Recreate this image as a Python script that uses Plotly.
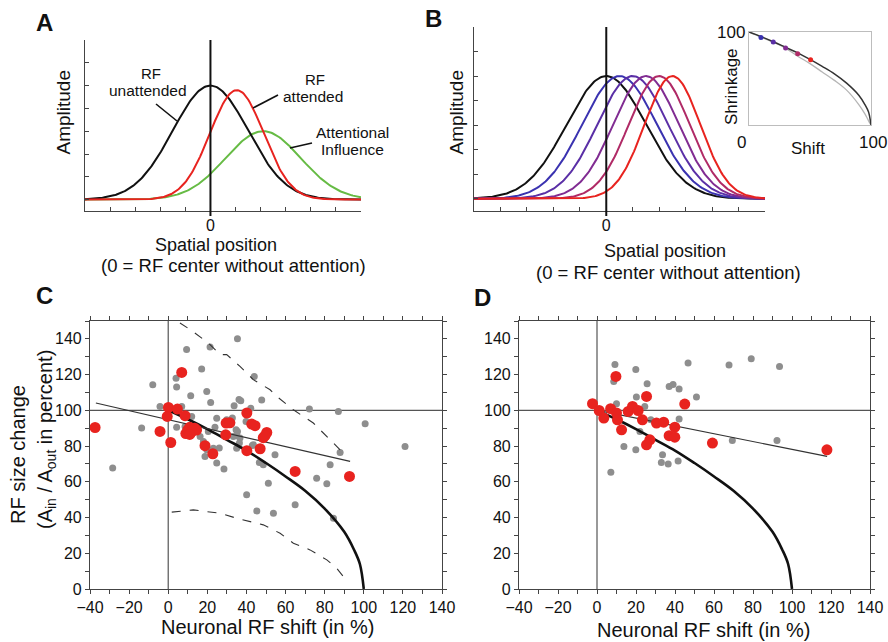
import numpy as np
import plotly.graph_objects as go

W, H = 888, 642
def PX(x): return x / W
def PY(y): return 1 - y / H

FONT = "Liberation Sans, Arial, Helvetica, sans-serif"

# ---------------- Panel A : Gaussian model parameters
a_centers = [0.0, 1.05, 2.1]        # RF unattended, RF attended, attentional influence
a_sigmas = [1.5, 1.07, 1.5]
a_amps = [1.0, 0.96, 0.6]
a_colors = ["#111111", "#e8231f", "#66bb44"]
spatial_ticks = [-5, -4, -3, -2, -1, 0, 1, 2, 3, 4, 5, 6]
amp_ticks = [0, 0.2, 0.4, 0.6, 0.8, 1.0, 1.2, 1.4]

# ---------------- Panel B : shifted / shrunken RFs
b_centers = [0.0, 0.5, 1.0, 1.5, 2.0, 2.5]
b_shrink = [100, 94.2, 89.2, 82.7, 76.6, 70.1]
b_base_sigma = 1.5
b_colors = ["#111111", "#3a32b0", "#5a2fa6", "#812c92", "#b02a66", "#e8231f"]

# inset of B
inset_shift = [9.8, 19.9, 30.0, 39.9, 50.5]
inset_shrinkage = [94.2, 89.2, 82.7, 76.6, 70.1]
inset_dot_colors = ["#3a32b0", "#5a2fa6", "#812c92", "#b02a66", "#e8231f"]
model_x = [0, 10, 20, 30, 40, 50, 60, 70, 80, 90, 95, 98, 100]
model_y = [100, 95, 89.5, 83.5, 77.5, 70.5, 63, 55, 45, 32, 22, 14, 0]
inset_gray_x = [0, 10, 20, 30, 40, 50, 60, 70, 80, 90, 95, 98, 100]
inset_gray_y = [100, 94.5, 89, 82.5, 74, 66, 57, 48, 37.5, 22, 12, 4.5, 0]

# ---------------- Panel C data
c_gray_x = [35.4, 9.4, 21.4, -7.9, 4.0, 4.3, 17.1, 11.5, 19.7, 21.7, -4.2, 6.9, 37.1, 47.8, 33.7, 42.2,
            24.8, 4.3, -13.6, -28.4, 18.0, 19.7, 18.8, 23.9, 24.8, 28.5, 26.1, 35.0, 34.7, 36.4, 32.5,
            43.5, 46.6, 48.6, 54.6, 51.2, 29.9, 44.0, 72.2, 87.0, 100.7, 121.1, 87.9, 82.8, 75.9, 81.1,
            64.9, 40.1, 45.3, 53.8, 84.5, 16.3, 33.3, 39.8, 35.0, 12.0, 8.6, 20.5, 23.1, 43.0, 36.7,
            35.4, 32.8, 36.2]
c_gray_y = [140.0, 134.0, 135.5, 114.3, 117.9, 113.1, 123.2, 108.2, 110.6, 104.4, 102.2, 102.2, 105.4,
            105.8, 102.6, 101.1, 95.5, 90.6, 90.1, 67.7, 82.6, 77.9, 74.2, 90.6, 70.5, 67.1, 78.9, 85.8,
            89.1, 81.7, 92.9, 80.7, 70.8, 69.5, 75.1, 59.2, 94.7, 119.0, 100.7, 99.4, 92.5, 79.8, 76.4,
            69.5, 62.0, 58.9, 47.1, 52.7, 43.7, 42.4, 39.6, 85.4, 85.4, 93.8, 78.8, 96.6, 91.0, 88.2,
            78.8, 80.3, 84.5, 88.2, 95.7, 106.0]
c_red_x = [-37.4, 6.9, 0.1, -0.5, 4.7, 8.6, -4.2, 1.3, 9.0, 10.0, 11.0, 12.0, 13.5, 14.5, 11.0, 18.8,
           22.8, 29.6, 31.5, 29.4, 40.2, 42.7, 44.4, 50.4, 48.6, 49.5, 40.2, 47.0, 64.9, 92.7]
c_red_y = [90.4, 121.2, 101.6, 96.6, 100.7, 97.0, 88.2, 82.0, 87.0, 89.0, 90.5, 88.0, 90.0, 89.0, 86.5,
           80.2, 75.7, 92.9, 93.0, 86.3, 98.5, 92.3, 91.4, 87.6, 84.7, 85.8, 77.4, 78.5, 65.8, 63.0]
c_fit_x = [-37.0, 93.0]
c_fit_y = [104.1, 71.4]
c_upper_x = [6.0, 11.2, 20.5, 26.5, 29.9, 36.7, 43.5, 52.1, 55.5, 64.0, 74.2, 84.5, 87.9]
c_upper_y = [148.9, 145.2, 137.7, 131.2, 131.2, 124.6, 117.2, 111.5, 107.8, 100.3, 92.9, 81.7, 77.9]
c_lower_x = [1.8, 12.8, 19.7, 26.5, 35.0, 41.8, 48.6, 57.2, 64.0, 72.5, 81.1, 86.2, 89.6]
c_lower_y = [43.0, 44.3, 43.3, 42.4, 39.6, 37.7, 35.9, 31.2, 25.6, 21.9, 16.3, 11.6, 6.9]

# ---------------- Panel D data
d_gray_x = [9.2, 8.6, 10.0, 19.9, 20.2, 25.7, 24.5, 37.0, 39.0, 42.1, 46.7, 51.0, 67.7, 79.1, 93.6,
            22.0, 42.1, 13.8, 19.9, 7.1, 33.6, 33.0, 36.5, 41.6, 69.4, 92.3, 27.6]
d_gray_y = [125.6, 116.2, 103.7, 122.8, 107.4, 114.9, 102.2, 113.4, 114.5, 111.9, 126.5, 107.4, 125.4,
            128.9, 124.6, 88.2, 95.1, 79.8, 77.9, 65.4, 75.1, 70.8, 69.9, 71.7, 83.1, 83.1, 94.7]
d_red_x = [-2.3, 1.1, 3.5, 7.0, 10.0, 10.5, 9.7, 12.6, 16.0, 18.2, 21.1, 25.4, 23.3, 30.5, 34.2, 39.9,
           37.0, 39.9, 45.0, 27.1, 25.4, 59.2, 117.9]
d_red_y = [103.7, 99.9, 95.7, 100.9, 98.5, 94.7, 119.0, 89.1, 99.4, 102.2, 99.9, 107.8, 94.7, 92.9, 93.4,
           90.6, 85.8, 85.0, 103.5, 83.5, 80.7, 81.7, 77.9]
d_fit_x = [-1.0, 118.0]
d_fit_y = [100.3, 74.2]

shift_labels = list(range(-40, 141, 20))
size_labels = list(range(0, 141, 20))
minor_step = 10

GRAY = "#8e8e8e"
RED = "#e8231f"

fig = go.Figure()

# ---- A curves
xs = np.linspace(spatial_ticks[0], spatial_ticks[-1], 241)
order_a = [2, 0, 1]
for i in order_a:
    ys = a_amps[i] * np.exp(-0.5 * ((xs - a_centers[i]) / a_sigmas[i]) ** 2)
    fig.add_trace(go.Scatter(x=xs, y=ys, mode="lines", line=dict(color=a_colors[i], width=2),
                             xaxis="x", yaxis="y", showlegend=False, hoverinfo="skip"))

# ---- B curves
for c, s, col in zip(b_centers, b_shrink, b_colors):
    sig = b_base_sigma * s / 100.0
    ys = np.exp(-0.5 * ((xs - c) / sig) ** 2)
    fig.add_trace(go.Scatter(x=xs, y=ys, mode="lines", line=dict(color=col, width=2),
                             xaxis="x2", yaxis="y2", showlegend=False, hoverinfo="skip"))

# ---- inset
fig.add_trace(go.Scatter(x=inset_gray_x, y=inset_gray_y, mode="lines", line=dict(color="#b5b5b5", width=1.3, shape="spline"),
                         xaxis="x3", yaxis="y3", showlegend=False))
fig.add_trace(go.Scatter(x=model_x, y=model_y, mode="lines", line=dict(color="#333333", width=1.5, shape="spline"),
                         xaxis="x3", yaxis="y3", showlegend=False))
fig.add_trace(go.Scatter(x=inset_shift, y=inset_shrinkage, mode="markers",
                         marker=dict(color=inset_dot_colors, size=5),
                         xaxis="x3", yaxis="y3", showlegend=False, cliponaxis=False))

# ---- C
fig.add_trace(go.Scatter(x=c_gray_x, y=c_gray_y, mode="markers", marker=dict(color=GRAY, size=7),
                         xaxis="x4", yaxis="y4", showlegend=False, cliponaxis=False))
for ux, uy in ((c_upper_x, c_upper_y), (c_lower_x, c_lower_y)):
    fig.add_trace(go.Scatter(x=ux, y=uy, mode="lines", line=dict(color="#333333", width=1.1, dash="dash"),
                             xaxis="x4", yaxis="y4", showlegend=False))
fig.add_trace(go.Scatter(x=model_x, y=model_y, mode="lines", line=dict(color="#111111", width=2.6, shape="spline"),
                         xaxis="x4", yaxis="y4", showlegend=False))
fig.add_trace(go.Scatter(x=c_fit_x, y=c_fit_y, mode="lines", line=dict(color="#333333", width=1.2),
                         xaxis="x4", yaxis="y4", showlegend=False))
fig.add_trace(go.Scatter(x=c_red_x, y=c_red_y, mode="markers", marker=dict(color=RED, size=11),
                         xaxis="x4", yaxis="y4", showlegend=False, cliponaxis=False))

# ---- D
fig.add_trace(go.Scatter(x=d_gray_x, y=d_gray_y, mode="markers", marker=dict(color=GRAY, size=7),
                         xaxis="x5", yaxis="y5", showlegend=False))
fig.add_trace(go.Scatter(x=model_x, y=model_y, mode="lines", line=dict(color="#111111", width=2.6, shape="spline"),
                         xaxis="x5", yaxis="y5", showlegend=False))
fig.add_trace(go.Scatter(x=d_fit_x, y=d_fit_y, mode="lines", line=dict(color="#333333", width=1.2),
                         xaxis="x5", yaxis="y5", showlegend=False))
fig.add_trace(go.Scatter(x=d_red_x, y=d_red_y, mode="markers", marker=dict(color=RED, size=11),
                         xaxis="x5", yaxis="y5", showlegend=False, cliponaxis=False))

# ---------------- axes
def minus(v):
    return ("\u2212" + str(-v)) if v < 0 else str(v)

def sketch_x(domain, anchor):
    return dict(domain=domain, range=[spatial_ticks[0], spatial_ticks[-1]], tickvals=[0],
                ticktext=["0"], ticks="inside", ticklen=4, tickcolor="#444",
                minor=dict(tickvals=spatial_ticks, ticks="inside", ticklen=4, tickcolor="#444", showgrid=False),
                showline=True, linecolor="#444", linewidth=1, showgrid=False,
                zeroline=False, tickfont=dict(size=16, color="#111"), anchor=anchor, automargin=False)

def sketch_y(domain, anchor):
    return dict(domain=domain, range=[-0.1, 1.4], tickvals=amp_ticks, ticks="inside", ticklen=4,
                tickcolor="#444", showline=True, linecolor="#444", linewidth=1, showgrid=False,
                zeroline=False, showticklabels=False, anchor=anchor, automargin=False)

def data_x(domain, anchor):
    return dict(domain=domain, range=[-40, 140], tickvals=shift_labels,
                ticktext=[minus(t) for t in shift_labels],
                ticks="outside", ticklen=4, tickcolor="#444", showline=True, mirror="ticks",
                minor=dict(dtick=minor_step, ticks="outside", ticklen=4, tickcolor="#444", showgrid=False),
                linecolor="#444", linewidth=1.2, showgrid=False, zeroline=False,
                tickfont=dict(size=16, color="#111"), anchor=anchor, automargin=False)

def data_y(domain, anchor):
    return dict(domain=domain, range=[0, 150], tickvals=size_labels,
                ticktext=[str(t) for t in size_labels],
                ticks="outside", ticklen=4, tickcolor="#444", showline=True, mirror="ticks",
                minor=dict(dtick=minor_step, ticks="outside", ticklen=4, tickcolor="#444", showgrid=False),
                linecolor="#444", linewidth=1.2, showgrid=False, zeroline=False,
                tickfont=dict(size=16, color="#111"), anchor=anchor, automargin=False)

A_x = [PX(85), PX(361)]
B_x = [PX(474), PX(765)]
AB_y = [PY(211), PY(40)]
B_y = [PY(211), PY(27)]
I_x = [PX(749), PX(871)]
I_y = [PY(125), PY(32)]
C_x = [PX(90), PX(442)]
D_x = [PX(519), PX(870)]
CD_y = [PY(589), PY(321)]

fig.update_layout(
    xaxis=sketch_x(A_x, "y"), yaxis=sketch_y(AB_y, "x"),
    xaxis2=sketch_x(B_x, "y2"), yaxis2=sketch_y(B_y, "x2"),
    xaxis3=dict(domain=I_x, range=[0, 100], showline=True, mirror=True, linecolor="#bdbdbd",
                linewidth=1, ticks="", showticklabels=False, showgrid=False, zeroline=False, anchor="y3",
                automargin=False),
    yaxis3=dict(domain=I_y, range=[0, 100], showline=True, mirror=True, linecolor="#bdbdbd",
                linewidth=1, ticks="", showticklabels=False, showgrid=False, zeroline=False, anchor="x3",
                automargin=False),
    xaxis4=data_x(C_x, "y4"), yaxis4=data_y(CD_y, "x4"),
    xaxis5=data_x(D_x, "y5"), yaxis5=data_y(CD_y, "x5"),
)

shapes = []
# zero lines in A and B
shapes.append(dict(type="line", xref="x", yref="paper", x0=0, x1=0, y0=PY(216), y1=PY(40),
                   line=dict(color="#111", width=2)))
shapes.append(dict(type="line", xref="x2", yref="paper", x0=0, x1=0, y0=PY(216), y1=PY(27),
                   line=dict(color="#111", width=2)))
# reference lines in C and D
for xr, yr in (("x4", "y4"), ("x5", "y5")):
    shapes.append(dict(type="line", xref=xr, yref=yr, x0=-40, x1=140, y0=100, y1=100, layer="below",
                       line=dict(color="#555", width=1.2)))
    shapes.append(dict(type="line", xref=xr, yref=yr, x0=0, x1=0, y0=0, y1=150, layer="below",
                       line=dict(color="#555", width=1.2)))
# leader lines in A
for (x0, y0, x1, y1) in [(156, 104, 177, 121), (278, 95, 253, 108), (312, 143, 290, 148)]:
    shapes.append(dict(type="line", xref="paper", yref="paper", x0=PX(x0), y0=PY(y0), x1=PX(x1), y1=PY(y1),
                       line=dict(color="#111", width=1.6)))

ann = []
def T(text, x, y, size, angle=0, bold=False, xanchor="center"):
    ann.append(dict(text=("<b>%s</b>" % text) if bold else text, x=PX(x), y=PY(y), xref="paper", yref="paper",
                    showarrow=False, xanchor=xanchor, yanchor="middle", textangle=angle,
                    font=dict(size=size, color="#111", family=FONT)))

T("A", 44, 22, 24, bold=True)
T("B", 433, 18, 24, bold=True)
T("C", 44, 295, 24, bold=True)
T("D", 482, 298, 24, bold=True)

T("Amplitude", 62.5, 112, 19, angle=-90)
T("Amplitude", 455.5, 112, 19, angle=-90)
T("Spatial position", 216, 245, 18)
T("(0 = RF center without attention)", 233, 266, 18.5)
T("Spatial position", 665, 251, 18)
T("(0 = RF center without attention)", 668, 272, 18.5)

T("RF", 151, 73.5, 15)
T("unattended", 148, 91, 15.5)
T("RF", 315, 79.5, 15)
T("attended", 313, 97, 15.5)
T("Attentional", 352, 132, 15.5)
T("Influence", 352, 149.5, 15.5)

T("100", 747, 33, 17, xanchor="right")
T("Shrinkage", 732, 87, 17, angle=-90)
T("0", 741, 142, 17)
T("Shift", 808, 148, 17)
T("100", 873, 142, 17)

T("RF size change", 18, 455, 20, angle=-90)
T("(A<sub>in</sub> / A<sub>out</sub> in percent)", 46, 440, 20, angle=-90)
T("Neuronal RF shift (in %)", 267, 627, 20)
T("Neuronal RF shift (in %)", 703, 630, 20)

fig.update_layout(
    width=W, height=H, margin=dict(l=0, r=0, t=0, b=0, autoexpand=False),
    paper_bgcolor="white", plot_bgcolor="white",
    font=dict(family=FONT, color="#111"),
    shapes=shapes, annotations=ann, showlegend=False,
)

fig.write_html("out.html")
